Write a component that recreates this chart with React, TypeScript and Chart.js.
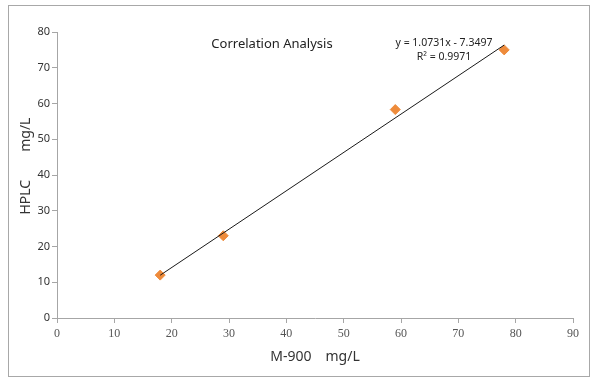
import React, { useEffect, useRef } from "react";
import { Chart, registerables } from "chart.js";

Chart.register(...registerables);

// ---- data ----
const m900Values = [18, 29, 59, 78];
const hplcValues = [12, 23, 58.3, 75];
const xTicks = [0, 10, 20, 30, 40, 50, 60, 70, 80, 90];
const yTicks = [0, 10, 20, 30, 40, 50, 60, 70, 80];
const trendSlope = 1.0731;
const trendIntercept = -7.3497;
const trendRange = [18, 78];
const chartTitle = "Correlation Analysis";
const equationText = "y = 1.0731x - 7.3497";
const r2Text = "R² = 0.9971";
const xTitle = "M-900\u3000mg/L";
const yTitle = "HPLC\u3000\u3000mg/L";

const W = 597;
const H = 383;

export default function App() {
  const ref = useRef<HTMLCanvasElement | null>(null);

  useEffect(() => {
    const canvas = ref.current;
    if (!canvas) return;

    const decor = {
      id: "decor",
      beforeDraw(chart: any) {
        const ctx = chart.ctx;
        ctx.save();
        ctx.fillStyle = "#ffffff";
        ctx.fillRect(0, 0, W, H);
        ctx.strokeStyle = "#a8a8a8";
        ctx.lineWidth = 1;
        ctx.strokeRect(8.5, 5.5, 581, 371);
        ctx.restore();
      },
      afterDraw(chart: any) {
        const ctx = chart.ctx;
        const xs = chart.scales.x;
        const ys = chart.scales.y;
        ctx.save();
        ctx.fillStyle = "#222222";
        ctx.textAlign = "center";
        ctx.textBaseline = "middle";
        ctx.font = "13px 'Noto Sans'";
        ctx.fillText(chartTitle, xs.getPixelForValue(37.5), ys.getPixelForValue(76.5));
        ctx.font = "10.5px 'Noto Sans'";
        ctx.fillText(equationText, xs.getPixelForValue(67.5), ys.getPixelForValue(77));
        ctx.fillText(r2Text, xs.getPixelForValue(67.5), ys.getPixelForValue(73.1));
        // y axis title
        ctx.font = "14px 'Noto Sans'";
        ctx.fillStyle = "#333333";
        ctx.translate(26, ys.getPixelForValue(42.5));
        ctx.rotate(-Math.PI / 2);
        ctx.fillText(yTitle, 0, 0);
        ctx.restore();
      },
    };

    const trendData = trendRange.map((x) => ({ x, y: trendSlope * x + trendIntercept }));
    const pts = m900Values.map((x, i) => ({ x, y: hplcValues[i] }));

    const chart = new Chart(canvas, {
      type: "scatter",
      data: {
        datasets: [
          {
            type: "line",
            label: "trend",
            data: trendData,
            borderColor: "#1a1a1a",
            borderWidth: 1,
            pointRadius: 0,
            fill: false,
            order: 0,
          } as any,
          {
            label: "data",
            data: pts,
            pointStyle: "rectRot",
            pointRadius: 5,
            backgroundColor: "#EE8B3B",
            borderColor: "#EE8B3B",
            borderWidth: 1,
            order: 1,
          },
        ],
      },
      options: {
        animation: false,
        responsive: false,
        devicePixelRatio: 1,
        layout: { padding: { top: 32, right: 24, bottom: 0, left: 0 } },
        plugins: {
          legend: { display: false },
          tooltip: { enabled: false },
          title: { display: false },
        },
        scales: {
          x: {
            type: "linear",
            position: "bottom",
            min: 0,
            max: 90,
            afterBuildTicks: (s: any) => {
              s.ticks = xTicks.map((v) => ({ value: v }));
            },
            afterFit: (s: any) => {
              s.height = 65;
            },
            ticks: {
              font: { family: "'Liberation Serif'", size: 12 },
              color: "#555555",
              padding: 4,
              maxRotation: 0,
            },
            grid: {
              display: true,
              drawOnChartArea: false,
              drawTicks: true,
              tickLength: 5,
              color: "#a6a6a6",
            },
            border: { display: true, color: "#a6a6a6", width: 1 },
            title: {
              display: true,
              text: xTitle,
              font: { family: "'Noto Sans'", size: 14 },
              color: "#333333",
              padding: { top: 0, bottom: 18 },
            },
          },
          y: {
            type: "linear",
            min: 0,
            max: 80,
            afterBuildTicks: (s: any) => {
              s.ticks = yTicks.map((v) => ({ value: v }));
            },
            afterFit: (s: any) => {
              s.width = 57;
            },
            ticks: {
              font: { family: "'Noto Sans'", size: 11 },
              color: "#333333",
              padding: 2,
            },
            grid: {
              display: true,
              drawOnChartArea: false,
              drawTicks: true,
              tickLength: 5,
              color: "#a6a6a6",
            },
            border: { display: true, color: "#a6a6a6", width: 1 },
          },
        },
      },
      plugins: [decor],
    });

    return () => chart.destroy();
  }, []);

  return (
    <div style={{ position: "fixed", left: 0, top: 0, width: W, height: H }}>
      <canvas ref={ref} width={W} height={H} style={{ width: W, height: H, display: "block" }} />
    </div>
  );
}
